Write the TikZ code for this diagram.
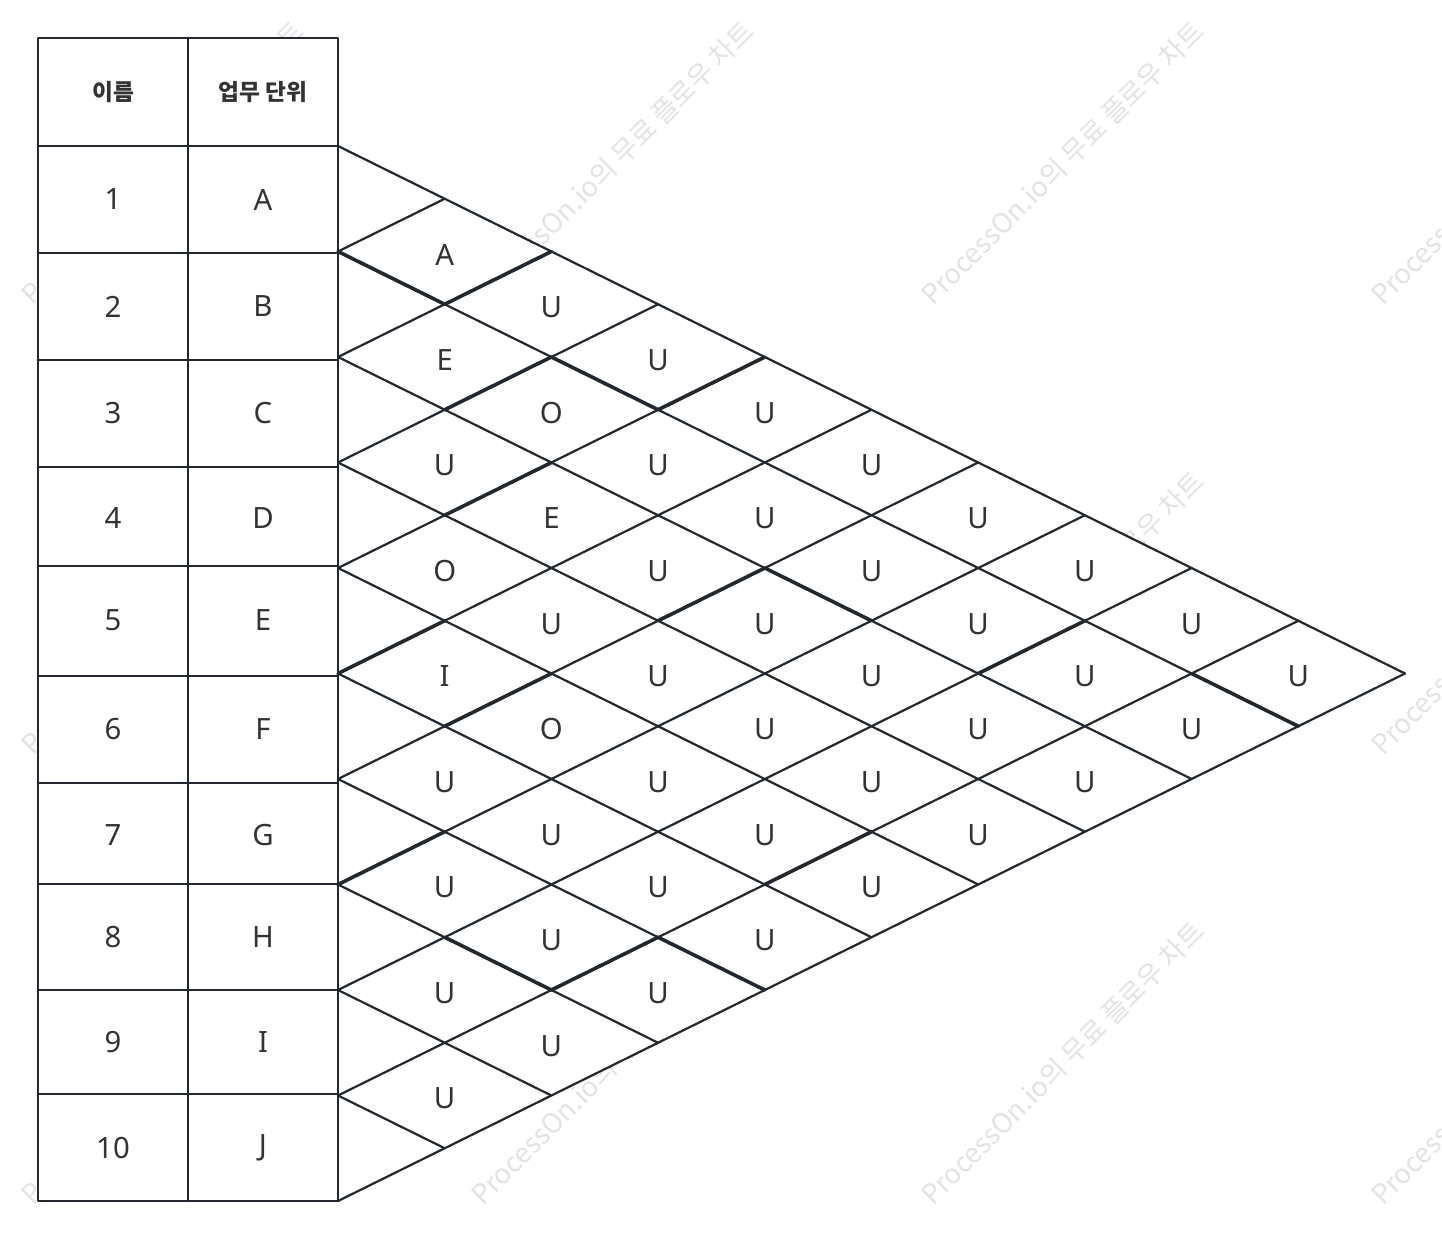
\documentclass[tikz,border=0pt]{standalone}
\usepackage{fontspec}
\setmainfont{Noto Sans}
\newfontfamily\kr{Noto Sans CJK KR}
\begin{document}
\begin{tikzpicture}[x=0.75pt,y=-0.75pt,line join=round,line cap=round,
  wm/.style={font=\kr\fontsize{20.5}{22}\selectfont,text=black!11,inner sep=0pt,anchor=base west,rotate=45},
  gridline/.style={draw=linec,line width=1.65pt},
  boldline/.style={draw=linec,line width=2.7pt},
  tabline/.style={draw=linec,line width=2.2pt},
  lab/.style={font=\fontsize{22}{24}\selectfont,text=textc,inner sep=0pt},
  head/.style={font=\kr\bfseries\fontsize{17}{19}\selectfont,text=textc,inner sep=0pt}]
\definecolor{linec}{HTML}{22282E}
\definecolor{textc}{HTML}{333333}
\useasboundingbox (0,0) rectangle (1442,1239);
\fill[white] (0,0) rectangle (1442,1239);
% watermarks
\foreach \wx in {33,483,933,1383}
  \foreach \wy in {307,757,1207}
    \node[wm] (wm-\wx-\wy) at (\wx,\wy) {ProcessOn.io의 무료 플로우 차트};
% white backgrounds
\fill[white] (38,38) rectangle (338,1201);
\fill[white] (338,146) -- (1405,673.5) -- (338,1201) -- cycle;
% grid coordinates
\foreach \i in {0,...,10}
  \foreach \j in {0,...,20}
    \coordinate (P\i-\j) at ({338+\i*106.7},{146+\j*52.75});
\foreach \k in {0,...,10}{
  \pgfmathtruncatemacro\jj{2*\k}
  \pgfmathtruncatemacro\bi{10-\k}
  \pgfmathtruncatemacro\bj{10+\k}
  \coordinate (L\k) at (P0-\jj);
  \coordinate (T\k) at (P\k-\k);
  \coordinate (B\k) at (P\bi-\bj);
}
% grid lines
\foreach \k in {0,...,9}
  \draw[gridline] (L\k) -- (B\k);
\foreach \k in {1,...,10}
  \draw[gridline] (L\k) -- (T\k);
% heavier (overlapping) edges
\foreach \p/\q in {0-2/1-3, 1-3/2-2, 1-5/2-4, 2-4/3-5, 3-5/4-4, 1-7/2-6,
                   0-10/1-9, 1-11/2-10, 3-9/4-8, 4-8/5-9, 6-10/7-9, 8-10/9-11,
                   0-14/1-13, 4-14/5-13, 1-15/2-16, 2-16/3-15, 3-15/4-16}
  \draw[boldline] (P\p) -- (P\q);
% labels, first two columns
\foreach \a/\b/\t in {1/2/A,2/3/E,3/4/U,4/5/O,5/6/I,6/7/U,7/8/U,8/9/U,9/10/U,
                      1/3/U,2/4/O,3/5/E,4/6/U,5/7/O,6/8/U,7/9/U,8/10/U}
  \node[lab] (d\a-\b) at ({338+(\b-\a)*106.7},{146+(\a+\b-1)*52.75+3}) {\t};
% remaining columns, all U
\foreach \d in {3,...,9}{
  \pgfmathtruncatemacro\n{10-\d}
  \foreach \a in {1,...,\n}{
    \pgfmathtruncatemacro\b{\a+\d}
    \node[lab] (d\a-\b) at ({338+\d*106.7},{146+(\a+\b-1)*52.75+3}) {U};
  }
}
% table
\draw[tabline] (38,38) rectangle (338,1201);
\draw[tabline] (188,38) -- (188,1201);
\foreach \yy in {146,253,360,467,566,676,783,884,990,1094}
  \draw[tabline] (38,\yy) -- (338,\yy);
\node[head] (h1) at (113,92) {이름};
\node[head] (h2) at (263,92) {업무 단위};
\foreach \i/\t/\u/\yc in {1/1/A/199.5,2/2/B/306.5,3/3/C/413.5,4/4/D/518,5/5/E/620,
                         6/6/F/729.5,7/7/G/835,8/8/H/937,9/9/I/1042,10/10/J/1147.5}{
  \node[lab] (n\i) at (113,\yc) {\t};
  \node[lab] (u\i) at (263,\yc) {\u};
}
\end{tikzpicture}
\end{document}
